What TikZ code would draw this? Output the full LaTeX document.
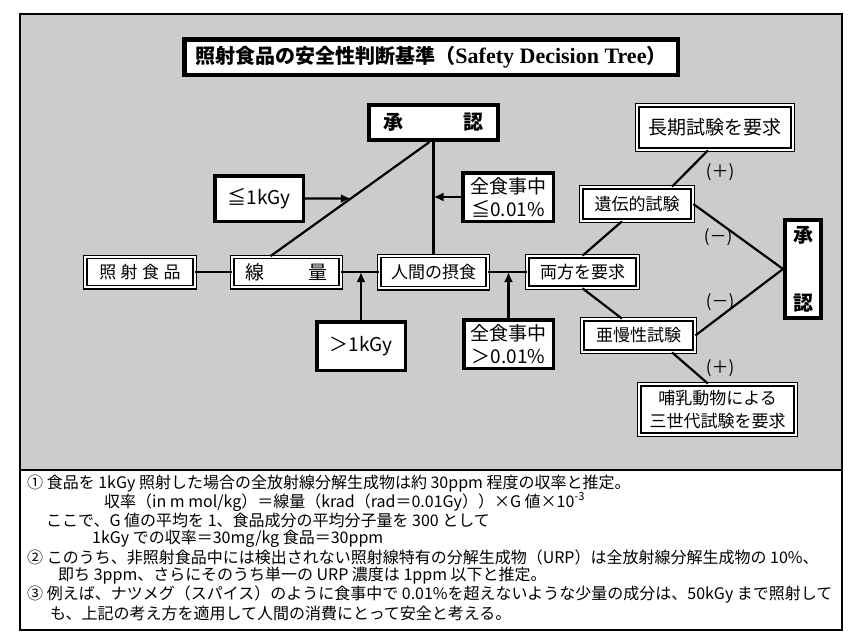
\documentclass[tikz,border=0pt]{standalone}
\usepackage{fontspec}
\setmainfont{Liberation Serif}
\newfontfamily\jp{Noto Sans CJK JP}
\usetikzlibrary{arrows.meta, calc}

\begin{document}
\begin{tikzpicture}[x=1pt, y=-1pt,
    box/.style={draw, fill=white, line width=3.5pt, inner sep=0pt, align=center, font=\jp\fontsize{19}{23}\selectfont},
    dbox/.style={draw, fill=white, line width=1.3pt, double, double distance=2pt, inner sep=0pt, align=center, font=\jp\fontsize{17}{23}\selectfont},
    bbox/.style={box, line width=4pt, font=\jp\bfseries\fontsize{20}{24}\selectfont},
    link/.style={line width=2.2pt},
    feed/.style={line width=2.2pt, -{Latex[length=10pt,width=9pt]}},
    sign/.style={inner sep=0pt, font=\jp\fontsize{17}{20}\selectfont},
    note/.style={anchor=west, inner sep=0pt, font=\jp\fontsize{16}{18}\selectfont}]
    \useasboundingbox (0,0) rectangle (852,637);

    % Shaded panel and outer frame
    \fill[black!20] (20,14) rectangle (842,470);
    \draw[line width=2pt] (20,14) rectangle (842,630);
    \draw[line width=2pt] (20,470) -- (842,470);

    % Title
    \node[box, line width=4.5pt, minimum width=493.5, minimum height=35.5] (Title) at (431,57)
        {{\jp\bfseries\fontsize{20}{24}\selectfont 照射食品の安全性判断基準（}{\rmfamily\bfseries\fontsize{22}{24}\selectfont Safety Decision Tree}{\jp\bfseries\fontsize{20}{24}\selectfont ）}};

    % Main row of the tree
    \node[dbox, minimum width=109.4, minimum height=30.4] (Food) at (140,272) {照\hspace{4.5pt}射\hspace{4.5pt}食\hspace{4.5pt}品};
    \node[dbox, minimum width=108.4, minimum height=30.4, font=\jp\fontsize{19}{23}\selectfont] (Dose) at (286.5,272) {線\hspace{45pt}量};
    \node[dbox, minimum width=108.4, minimum height=32.4] (Intake) at (433.5,272) {人間の摂食};
    \node[dbox, minimum width=110.4, minimum height=31.4] (Both) at (582.5,272) {両方を要求};

    % Conditions
    \node[box, minimum width=88.5, minimum height=45.5] (LowDose) at (259,198.5) {≦1kGy};
    \node[box, minimum width=88.5, minimum height=48.5] (HighDose) at (361,346) {＞1kGy};
    \node[box, minimum width=90.5, minimum height=48.5] (LowIntake) at (508,197) {全食事中\\≦0.01\%};
    \node[box, minimum width=89.5, minimum height=48.5] (HighIntake) at (508.5,344) {全食事中\\＞0.01\%};

    % Approvals
    \node[bbox, minimum width=129, minimum height=35] (Approve) at (433.5,122.5) {承\hspace{3em}認};
    \node[bbox, minimum width=36, minimum height=98, font=\jp\bfseries\fontsize{20}{68}\selectfont] (Accept) at (803,269) {承\\認};

    % Tests
    \node[dbox, minimum width=111.4, minimum height=33.4] (Genetic) at (637,204) {遺伝的試験};
    \node[dbox, minimum width=112.4, minimum height=32.4] (Subchronic) at (638.5,335.5) {亜慢性試験};
    \node[dbox, minimum width=155.4, minimum height=44.4, font=\jp\fontsize{19}{23}\selectfont] (LongTerm) at (715,127.5) {長期試験を要求};
    \node[dbox, minimum width=156.4, minimum height=50.4] (ThreeGen) at (717.5,409.5) {哺乳動物による\\三世代試験を要求};

    % Connectors
    \draw[link] (Food) -- (Dose);
    \draw[link] (Dose) -- (Intake);
    \draw[link] (Intake) -- (Both);
    \draw[link] (Intake) -- (Approve);
    \coordinate (DiagLow) at ($(Dose.north)+(-16,0)$);
    \coordinate (DiagHigh) at ($(Approve.south)+(-4,0)$);
    \draw[link] (DiagLow) -- (DiagHigh);
    \coordinate (LowCut) at (LowDose.east -| Approve.south);
    \draw[feed] (LowDose.east) -- (intersection of DiagLow--DiagHigh and LowDose.east--LowCut);
    \draw[feed] (LowIntake.west) -- (LowIntake.west -| Intake.north);
    \draw[feed] (HighDose.north) -- (HighDose.north |- Dose.east);
    \draw[feed] (HighIntake.north) -- (HighIntake.north |- Intake.east);

    \draw[link] ($(LongTerm.south)+(-7,0)$) -- ($(Genetic.north)+(35,0)$);
    \draw[link] (Both.north) -- ($(Genetic.south)+(-15,0)$);
    \draw[link] (Both.south) -- ($(Subchronic.north)+(-16.5,0)$);
    \draw[link] (Genetic.east) -- (Accept.west);
    \draw[link] (Subchronic.east) -- (Accept.west);
    \draw[link] ($(Subchronic.south)+(33.5,0)$) -- ($(ThreeGen.north)+(-9.5,0)$);

    % Signs on the test branches
    \node[sign] (PlusA) at (720,172) {(＋)};
    \node[sign] (MinusA) at (718,237) {(－)};
    \node[sign] (MinusB) at (720,302) {(－)};
    \node[sign] (PlusB) at (720,368) {(＋)};

    % Notes
    \node[note] (NoteA) at (27,484) {① 食品を 1kGy 照射した場合の全放射線分解生成物は約 30ppm 程度の収率と推定。};
    \node[note] (NoteB) at (104,502) {収率（in m mol/kg）＝線量（krad（rad＝0.01Gy））×G 値×10\textsuperscript{-3}};
    \node[note] (NoteC) at (46,520) {ここで、G 値の平均を 1、食品成分の平均分子量を 300 として};
    \node[note] (NoteD) at (92,539) {1kGy での収率＝30mg/kg 食品＝30ppm};
    \node[note] (NoteE) at (27,557) {② このうち、非照射食品中には検出されない照射線特有の分解生成物（URP）は全放射線分解生成物の 10\%、};
    \node[note] (NoteF) at (58,576) {即ち 3ppm、さらにそのうち単一の URP 濃度は 1ppm 以下と推定。};
    \node[note] (NoteG) at (27,595) {③ 例えば、ナツメグ（スパイス）のように食事中で 0.01\%を超えないような少量の成分は、50kGy まで照射して};
    \node[note] (NoteH) at (50,613) {も、上記の考え方を適用して人間の消費にとって安全と考える。};
\end{tikzpicture}
\end{document}
